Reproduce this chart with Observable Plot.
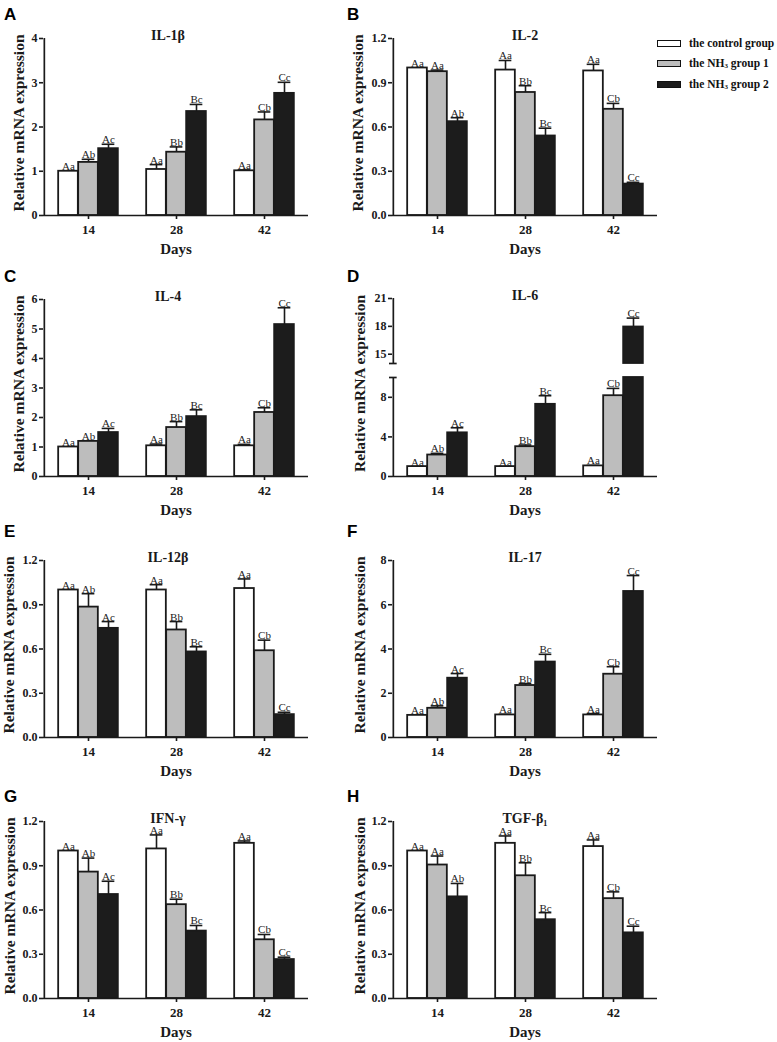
<!DOCTYPE html>
<html><head><meta charset="utf-8">
<script src="https://cdn.jsdelivr.net/npm/d3@7"></script>
<script src="https://cdn.jsdelivr.net/npm/@observablehq/plot@0.6"></script>
<style>
body{margin:0;background:#fff;}
#fig{position:relative;width:777px;height:1042px;overflow:hidden;font-family:"Liberation Serif",serif;background:#fff;}
.panel{position:absolute;}
.panel svg{overflow:visible;}
.letter{position:absolute;font:bold 17px "Liberation Sans",Arial,sans-serif;line-height:17px;color:#000;}
.legend{position:absolute;left:657px;top:33px;font:bold 11.5px "Liberation Serif",serif;color:#111;}
.legend .row{display:flex;align-items:center;height:20.5px;white-space:nowrap;}
.legend .sw{width:22px;height:5px;border:1.5px solid #111;margin-right:8px;}
.legend sub{font-size:7px;vertical-align:-1px;}
</style></head><body><div id="fig"></div><script>
// ---------- data ----------
const days = ["14", "28", "42"];
const groups = ["the control group", "the NH3 group 1", "the NH3 group 2"];
const groupFills = ["#ffffff", "#bdbdbd", "#1c1c1c"];

const lettersStd = [["Aa","Ab","Ac"],["Aa","Bb","Bc"],["Aa","Cb","Cc"]];
const lettersAlt = [["Aa","Aa","Ab"],["Aa","Bb","Bc"],["Aa","Cb","Cc"]];

// rows = days, columns = groups
const il1bMean = [[1.00, 1.20, 1.51],[1.04, 1.43, 2.35],[1.01, 2.16, 2.76]];
const il1bSem  = [[0.00, 0.07, 0.10],[0.11, 0.12, 0.16],[0.02, 0.18, 0.25]];

const il2Mean = [[1.00, 0.975, 0.636],[0.986, 0.834, 0.539],[0.98, 0.72, 0.213]];
const il2Sem  = [[0.00, 0.011, 0.027],[0.065, 0.046, 0.053],[0.045, 0.04, 0.012]];

const il4Mean = [[1.00, 1.19, 1.49],[1.04, 1.66, 2.03],[1.04, 2.17, 5.15]];
const il4Sem  = [[0.00, 0.02, 0.14],[0.06, 0.20, 0.23],[0.05, 0.16, 0.57]];

const il6Mean = [[1.00, 2.17, 4.41],[1.00, 3.01, 7.29],[1.07, 8.16, 17.93]];
const il6Sem  = [[0.00, 0.17, 0.51],[0.00, 0.17, 0.87],[0.05, 0.74, 0.96]];

const il12Mean = [[1.00, 0.884, 0.74],[1.00, 0.729, 0.58],[1.01, 0.588, 0.155]];
const il12Sem  = [[0.00, 0.091, 0.046],[0.036, 0.057, 0.035],[0.065, 0.072, 0.016]];

const il17Mean = [[1.00, 1.32, 2.68],[1.02, 2.35, 3.41],[1.02, 2.86, 6.60]];
const il17Sem  = [[0.00, 0.11, 0.21],[0.03, 0.09, 0.35],[0.06, 0.34, 0.72]];

const ifnMean = [[1.00, 0.857, 0.705],[1.014, 0.636, 0.457],[1.052, 0.398, 0.264]];
const ifnSem  = [[0.00, 0.095, 0.09],[0.095, 0.037, 0.038],[0.016, 0.036, 0.016]];

const tgfMean = [[1.00, 0.905, 0.689],[1.052, 0.832, 0.534],[1.03, 0.677, 0.445]];
const tgfSem  = [[0.00, 0.061, 0.091],[0.05, 0.088, 0.048],[0.045, 0.046, 0.045]];

const ticksFrac = [0, 0.3, 0.6, 0.9, 1.2];
const il6TicksLow = [0, 4, 8];
const il6TicksHigh = [15, 18, 21];
const fmtFrac = d3.format(".1f");
const fmtInt = d3.format("d");

const panels = [
  {id:"A", title:"IL-1β", mean:il1bMean, sem:il1bSem, sig:lettersStd, max:4, ticks:[0,1,2,3,4], fmt:fmtInt, col:0, top:38, labelDx:-24},
  {id:"B", title:"IL-2", mean:il2Mean, sem:il2Sem, sig:lettersAlt, max:1.2, ticks:ticksFrac, fmt:fmtFrac, col:1, top:38, labelDx:-34},
  {id:"C", title:"IL-4", mean:il4Mean, sem:il4Sem, sig:lettersStd, max:6, ticks:[0,1,2,3,4,5,6], fmt:fmtInt, col:0, top:299, labelDx:-24},
  {id:"D", title:"IL-6", mean:il6Mean, sem:il6Sem, sig:lettersStd, max:21, fmt:fmtInt, col:1, top:299, labelDx:-32,
    parts:[{lo:14, hi:21, top:298, h:65, ticks:il6TicksHigh}, {lo:0, hi:10, top:377, h:99, ticks:il6TicksLow}]},
  {id:"E", title:"IL-12β", mean:il12Mean, sem:il12Sem, sig:lettersStd, max:1.2, ticks:ticksFrac, fmt:fmtFrac, col:0, top:560, labelDx:-34},
  {id:"F", title:"IL-17", mean:il17Mean, sem:il17Sem, sig:lettersStd, max:8, ticks:[0,2,4,6,8], fmt:fmtInt, col:1, top:560, labelDx:-32},
  {id:"G", title:"IFN-γ", mean:ifnMean, sem:ifnSem, sig:lettersStd, max:1.2, ticks:ticksFrac, fmt:fmtFrac, col:0, top:821, labelDx:-33},
  {id:"H", title:"TGF-β₁", mean:tgfMean, sem:tgfSem, sig:lettersAlt, max:1.2, ticks:ticksFrac, fmt:fmtFrac, col:1, top:821, labelDx:-32}
];
const letterTops = {38: 6, 299: 268, 560: 523, 821: 788};

// ---------- layout ----------
const W = 265, FH = 177, ML = 43, MR = 4, MT = 20, MB = 48;
const bw = W / 3, barW = 20, gap = (bw - 3 * barW) / 2, capW = 13;
const ink = "#1a1a1a";
const fig = document.getElementById("fig");

function makePart(p, rows, part, isTop, isBottom) {
  const bars = rows.filter(r => r.mean > part.lo)
    .map(r => ({...r, y1: part.lo, y2: Math.min(r.mean, part.hi)}));
  const ends = rows.filter(r => r.mean >= part.lo && r.top <= part.hi);
  const marks = [];
  groups.forEach((g, gi) => {
    const left = gap + gi * barW, right = bw - left - barW;
    const dx = (gi - 1) * barW;
    const eg = ends.filter(r => r.gi === gi);
    marks.push(Plot.ruleX(eg, {x: "day", y1: "mean", y2: "top", dx, stroke: ink, strokeWidth: 1.6}));
    marks.push(Plot.tickY(eg, {x: "day", y: "top", insetLeft: left + (barW - capW) / 2, insetRight: right + (barW - capW) / 2, stroke: ink, strokeWidth: 1.6}));
    marks.push(Plot.barY(bars.filter(r => r.gi === gi), {x: "day", y1: "y1", y2: "y2", fill: groupFills[gi], stroke: ink, strokeWidth: 1.8, insetLeft: left, insetRight: right}));
    marks.push(Plot.text(eg, {x: "day", y: "top", text: "sig", dx, dy: -1, lineAnchor: "bottom", fontSize: 11, fill: "#222"}));
  });
  // axis lines
  marks.push(Plot.ruleX([part], {x: () => days[0], y1: "lo", y2: "hi", dx: -bw / 2, stroke: ink, strokeWidth: 1.7}));
  const breaks = [];
  if (part.lo > 0) breaks.push(part.lo);
  if (part.hi < p.max) breaks.push(part.hi);
  if (breaks.length) marks.push(Plot.tickY(breaks, {x: () => days[0], y: d => d, insetLeft: -4, insetRight: bw - 4, stroke: ink, strokeWidth: 1.7}));
  marks.push(Plot.axisY(part.ticks, {tickSize: 4, tickPadding: 2, fontSize: 12, fontWeight: "bold", tickFormat: p.fmt, label: null, stroke: ink, strokeWidth: 1.6, fill: ink}));
  if (isBottom) {
    marks.push(Plot.ruleY([0], {stroke: ink, strokeWidth: 1.7}));
    marks.push(Plot.axisX({tickSize: 4, tickPadding: 5, fontSize: 13, fontWeight: "bold", label: null, stroke: ink, strokeWidth: 1.6, fill: ink}));
    marks.push(Plot.text(["Days"], {frameAnchor: "bottom", lineAnchor: "bottom", dy: 38, fontSize: 15, fontWeight: "bold", fill: ink}));
    const wholeCenter = (p.parts ? (p.parts[0].top + p.parts[p.parts.length - 1].top + p.parts[p.parts.length - 1].h) / 2 : part.top + part.h / 2);
    const partCenter = part.top + part.h / 2;
    marks.push(Plot.text(["Relative mRNA expression"], {frameAnchor: "left", textAnchor: "middle", rotate: -90, dx: p.labelDx, dy: wholeCenter - partCenter - 4, fontSize: 15.5, fontWeight: "bold", fill: ink}));
  }
  if (isTop) {
    marks.push(Plot.text([p.title], {frameAnchor: "top", lineAnchor: "bottom", dy: 1, dx: p.col ? 0 : -8, fontSize: 14, fontWeight: "bold", fill: ink}));
  }
  const svg = Plot.plot({
    width: ML + W + MR, height: MT + part.h + MB,
    marginLeft: ML, marginRight: MR, marginTop: MT, marginBottom: MB,
    x: {domain: days, padding: 0, axis: null},
    y: {domain: [part.lo, part.hi], axis: null},
    style: {fontFamily: "'Liberation Serif', serif", background: "transparent", color: ink, overflow: "visible"},
    marks
  });
  const div = document.createElement("div");
  div.className = "panel";
  div.style.left = (p.col ? 349 : 0) + "px";
  div.style.top = (part.top - MT) + "px";
  div.appendChild(svg);
  fig.appendChild(div);
}

function makePanel(p) {
  const rows = [];
  days.forEach((day, di) => groups.forEach((g, gi) => {
    const mean = p.mean[di][gi], sem = p.sem[di][gi];
    rows.push({day, gi, mean, sem, top: mean + sem, sig: p.sig[di][gi]});
  }));
  const parts = p.parts || [{lo: 0, hi: p.max, top: p.top, h: FH, ticks: p.ticks}];
  parts.forEach((part, i) => makePart(p, rows, part, i === 0, i === parts.length - 1));

  const lt = document.createElement("div");
  lt.className = "letter";
  lt.textContent = p.id;
  lt.style.left = (p.col ? 347 : 4) + "px";
  lt.style.top = letterTops[p.top] + "px";
  fig.appendChild(lt);
}
panels.forEach(makePanel);

// legend
const legendLabels = ["the control group", "the NH<sub>3</sub> group 1", "the NH<sub>3</sub> group 2"];
const lg = document.createElement("div");
lg.className = "legend";
lg.innerHTML = legendLabels.map((t, i) =>
  `<div class="row"><span class="sw" style="background:${groupFills[i]}"></span><span>${t}</span></div>`).join("");
fig.appendChild(lg);
</script></body></html>
